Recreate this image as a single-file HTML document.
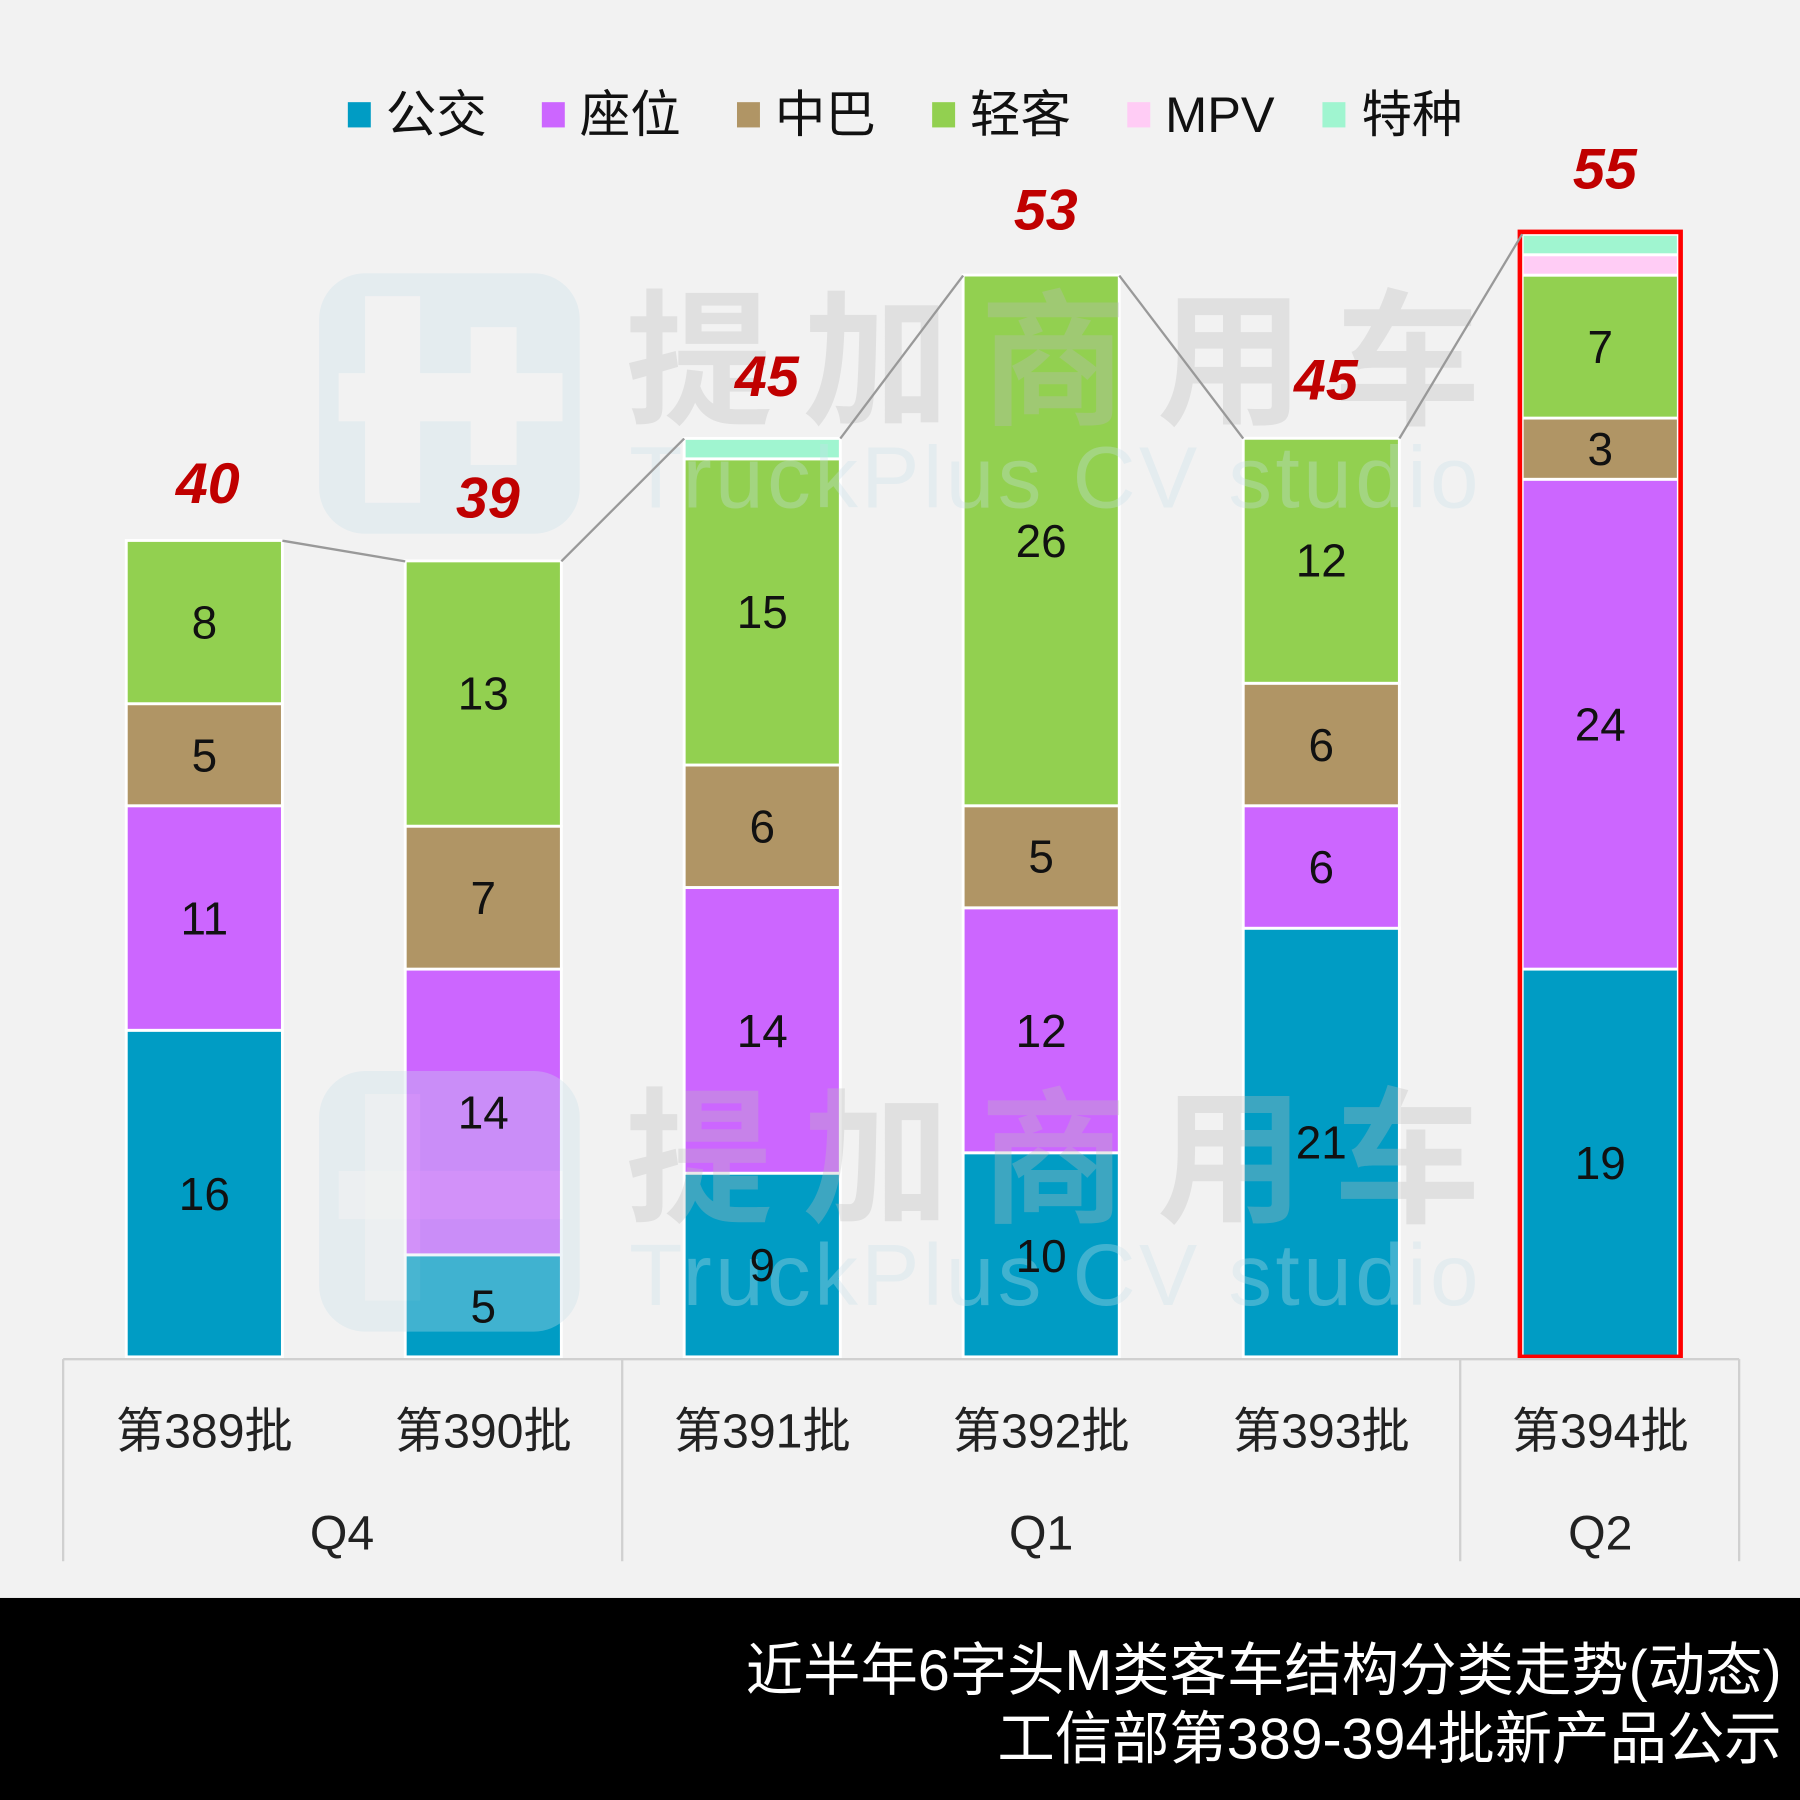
<!DOCTYPE html>
<html><head><meta charset="utf-8"><style>html,body{margin:0;padding:0;background:#F2F2F2}svg{display:block}</style></head>
<body>
<svg width="1800" height="1800" viewBox="0 0 1568 1568" xmlns="http://www.w3.org/2000/svg" font-family="'Liberation Sans','Noto Sans CJK SC',sans-serif">
<rect width="1568" height="1568" fill="#F2F2F2"/>
<g font-size="44" fill="#111">
<rect x="303" y="89" width="20" height="22" fill="#009CC4"/><text x="336" y="115">公交</text>
<rect x="472" y="89" width="20" height="22" fill="#CC66FF"/><text x="505" y="115">座位</text>
<rect x="642" y="89" width="20" height="22" fill="#B09565"/><text x="675" y="115">中巴</text>
<rect x="812" y="89" width="20" height="22" fill="#92D050"/><text x="845" y="115">轻客</text>
<rect x="982" y="89" width="20" height="22" fill="#FFCCF5"/><text x="1015" y="115">MPV</text>
<rect x="1152" y="89" width="20" height="22" fill="#A0F5D0"/><text x="1186" y="115">特种</text>
</g>
<g stroke="#fff" stroke-width="2.5">
<rect x="110" y="897.5" width="136" height="284.5" fill="#009CC4"/>
<rect x="110" y="701.9" width="136" height="195.6" fill="#CC66FF"/>
<rect x="110" y="613" width="136" height="88.9" fill="#B09565"/>
<rect x="110" y="470.8" width="136" height="142.2" fill="#92D050"/>
<rect x="353" y="1093.1" width="136" height="88.9" fill="#009CC4"/>
<rect x="353" y="844.2" width="136" height="248.9" fill="#CC66FF"/>
<rect x="353" y="719.7" width="136" height="124.5" fill="#B09565"/>
<rect x="353" y="488.6" width="136" height="231.1" fill="#92D050"/>
<rect x="596" y="1022" width="136" height="160" fill="#009CC4"/>
<rect x="596" y="773.1" width="136" height="248.9" fill="#CC66FF"/>
<rect x="596" y="666.4" width="136" height="106.7" fill="#B09565"/>
<rect x="596" y="399.7" width="136" height="266.7" fill="#92D050"/>
<rect x="596" y="381.9" width="136" height="17.8" fill="#A0F5D0"/>
<rect x="839" y="1004.2" width="136" height="177.8" fill="#009CC4"/>
<rect x="839" y="790.8" width="136" height="213.4" fill="#CC66FF"/>
<rect x="839" y="701.9" width="136" height="88.9" fill="#B09565"/>
<rect x="839" y="239.6" width="136" height="462.3" fill="#92D050"/>
<rect x="1083" y="808.6" width="136" height="373.4" fill="#009CC4"/>
<rect x="1083" y="701.9" width="136" height="106.7" fill="#CC66FF"/>
<rect x="1083" y="595.2" width="136" height="106.7" fill="#B09565"/>
<rect x="1083" y="381.8" width="136" height="213.4" fill="#92D050"/>
<rect x="1326" y="844.2" width="136" height="337.8" fill="#009CC4"/>
<rect x="1326" y="417.5" width="136" height="426.7" fill="#CC66FF"/>
<rect x="1326" y="364.2" width="136" height="53.3" fill="#B09565"/>
<rect x="1326" y="239.7" width="136" height="124.5" fill="#92D050"/>
<rect x="1326" y="221.9" width="136" height="17.8" fill="#FFCCF5"/>
<rect x="1326" y="204.1" width="136" height="17.8" fill="#A0F5D0"/>
</g>
<rect x="1324" y="202" width="140" height="980" fill="none" stroke="#FF0000" stroke-width="4"/>
<g opacity="0.32">
<rect x="278" y="238" width="227" height="227" rx="40" fill="#C8E0EA"/>
<rect x="318" y="258" width="48" height="180" fill="#F2F2F2"/>
<rect x="295" y="325" width="195" height="42" fill="#F2F2F2"/>
<rect x="410" y="285" width="40" height="120" fill="#F2F2F2"/>
<text x="545" y="360" font-size="128" font-weight="bold" fill="#BDBDBD" textLength="745">提加商用车</text>
<text x="548" y="442" font-size="76" fill="#C8E0EA" textLength="740">TruckPlus CV studio</text>
<rect x="278" y="933" width="227" height="227" rx="40" fill="#C8E0EA"/>
<rect x="318" y="953" width="48" height="180" fill="#F2F2F2" opacity="0.6"/>
<rect x="295" y="1020" width="195" height="42" fill="#F2F2F2" opacity="0.6"/>
<text x="545" y="1055" font-size="128" font-weight="bold" fill="#BDBDBD" textLength="745">提加商用车</text>
<text x="548" y="1137" font-size="76" fill="#C8E0EA" textLength="740">TruckPlus CV studio</text>
</g>
<g font-size="40" fill="#111" text-anchor="middle">
<text x="178" y="1054">16</text><text x="178" y="814">11</text><text x="178" y="672">5</text><text x="178" y="556">8</text>
<text x="421" y="1152">5</text><text x="421" y="983">14</text><text x="421" y="796">7</text><text x="421" y="618">13</text>
<text x="664" y="1116">9</text><text x="664" y="912">14</text><text x="664" y="734">6</text><text x="664" y="547">15</text>
<text x="907" y="1108">10</text><text x="907" y="912">12</text><text x="907" y="760">5</text><text x="907" y="485">26</text>
<text x="1151" y="1009">21</text><text x="1151" y="769">6</text><text x="1151" y="663">6</text><text x="1151" y="502">12</text>
<text x="1394" y="1027">19</text><text x="1394" y="645">24</text><text x="1394" y="405">3</text><text x="1394" y="316">7</text>
</g>
<g stroke="#999" stroke-width="2">
<line x1="246" y1="471" x2="353" y2="489"/><line x1="489" y1="489" x2="596" y2="382"/>
<line x1="732" y1="382" x2="839" y2="240"/><line x1="975" y1="240" x2="1083" y2="382"/>
<line x1="1219" y1="382" x2="1326" y2="204"/>
</g>
<g font-size="50" font-weight="bold" font-style="italic" fill="#C00000" text-anchor="middle">
<text x="181" y="438">40</text><text x="425" y="451">39</text><text x="668" y="345">45</text>
<text x="911" y="200">53</text><text x="1155" y="348">45</text><text x="1398" y="164">55</text>
</g>
<g stroke="#D0D0D0" stroke-width="2">
<line x1="55" y1="1184" x2="1515" y2="1184"/>
<line x1="55" y1="1184" x2="55" y2="1360"/><line x1="542" y1="1184" x2="542" y2="1360"/>
<line x1="1272" y1="1184" x2="1272" y2="1360"/><line x1="1515" y1="1184" x2="1515" y2="1360"/>
</g>
<g font-size="42" fill="#222" text-anchor="middle">
<text x="178" y="1261">第389批</text><text x="421" y="1261">第390批</text><text x="664" y="1261">第391批</text>
<text x="907" y="1261">第392批</text><text x="1151" y="1261">第393批</text><text x="1394" y="1261">第394批</text>
<text x="298" y="1350">Q4</text><text x="907" y="1350">Q1</text><text x="1394" y="1350">Q2</text>
</g>
<rect x="0" y="1392" width="1568" height="176" fill="#000"/>
<g font-size="50" fill="#fff" text-anchor="end">
<text x="1552" y="1472">近半年6字头M类客车结构分类走势(动态)</text>
<text x="1552" y="1532">工信部第389-394批新产品公示</text>
</g>
</svg>
</body></html>
